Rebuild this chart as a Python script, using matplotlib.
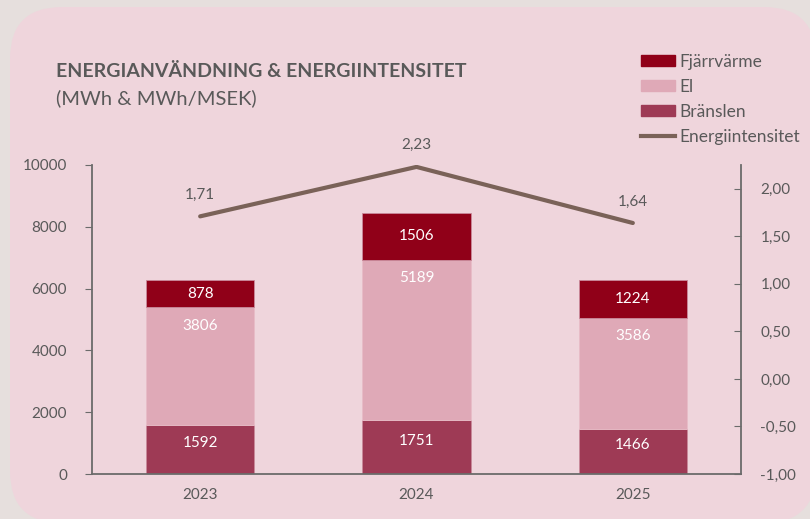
import matplotlib
matplotlib.use("Agg")
import matplotlib.pyplot as plt
from matplotlib.patches import FancyBboxPatch, Patch
from matplotlib.lines import Line2D
import numpy as np

plt.rcParams["font.family"] = ["Lato", "DejaVu Sans"]

years = ["2023", "2024", "2025"]
branslen = [1592, 1751, 1466]
el = [3806, 5189, 3586]
fjarrvarme = [878, 1506, 1224]
intensitet = [1.71, 2.23, 1.64]

c_fjarr = "#900018"
c_el = "#dfa9b7"
c_bran = "#9e3a55"
c_line = "#7a6258"
c_text = "#595959"
c_panel = "#efd5dc"
c_outer = "#e6dfdd"

W, H = 810, 519
fig = plt.figure(figsize=(W / 100, H / 100), dpi=100)
fig.patch.set_facecolor(c_outer)

# rounded pink panel drawn in pixel coordinates
bg = fig.add_axes([0, 0, 1, 1])
bg.set_xlim(0, W)
bg.set_ylim(H, 0)
bg.axis("off")
bg.add_patch(FancyBboxPatch((10, 7), 806, 516,
                            boxstyle="round,pad=0,rounding_size=52",
                            fc=c_panel, ec="none"))

ax = fig.add_axes([92 / W, 1 - 474 / H, 649 / W, 309 / H])
ax.set_facecolor("none")
x = np.arange(len(years))
bw = 0.5
ax.bar(x, branslen, bw, color=c_bran, edgecolor="#c98a9b", linewidth=0.6)
ax.bar(x, el, bw, bottom=branslen, color=c_el, edgecolor="#e8bcc7", linewidth=0.6)
bot3 = np.array(branslen) + np.array(el)
ax.bar(x, fjarrvarme, bw, bottom=bot3, color=c_fjarr, edgecolor="#c98a9b", linewidth=0.6)

ax.set_xlim(-0.5, 2.5)
ax.set_ylim(0, 10000)
ax.set_yticks(range(0, 10001, 2000))
ax.set_xticks(x)
ax.set_xticklabels(years)
for s in ["top", "right"]:
    ax.spines[s].set_visible(False)
for s in ["left", "bottom"]:
    ax.spines[s].set_color("#6b6b6b")
    ax.spines[s].set_linewidth(1.3)
ax.tick_params(axis="y", direction="out", length=5, color="#6b6b6b", labelsize=11,
               labelcolor=c_text, pad=13)
ax.tick_params(axis="x", length=0, labelsize=11, labelcolor=c_text, pad=10)

lab_kw = dict(ha="center", va="center", color="white", fontsize=11)
for i in range(len(years)):
    ax.text(x[i], branslen[i] / 2 + 200, str(branslen[i]), **lab_kw)
    ax.text(x[i], branslen[i] + el[i] - 600, str(el[i]), **lab_kw)
    ax.text(x[i], bot3[i] + fjarrvarme[i] / 2, str(fjarrvarme[i]), **lab_kw)

ax2 = ax.twinx()
ax2.set_ylim(-1.0, 2.25)
ax2.set_yticks(np.arange(-1.0, 2.01, 0.5))
ax2.set_yticklabels([f"{v:.2f}".replace(".", ",") for v in np.arange(-1.0, 2.01, 0.5)])
for s in ["top", "left", "bottom"]:
    ax2.spines[s].set_visible(False)
ax2.spines["right"].set_color("#6b6b6b")
ax2.spines["right"].set_linewidth(1.3)
ax2.tick_params(axis="y", direction="in", length=5, color="#6b6b6b", labelsize=11,
                labelcolor=c_text, pad=14)
ax2.plot(x, intensitet, color=c_line, linewidth=3, solid_capstyle="round")
for i, v in enumerate(intensitet):
    ax2.annotate(f"{v:.2f}".replace(".", ","), (x[i], v), xytext=(0, 15.5),
                 textcoords="offset points", ha="center", va="center",
                 color=c_text, fontsize=11)

fig.text(56 / W, 1 - 72 / H, "ENERGIANVÄNDNING & ENERGIINTENSITET", fontsize=14,
         fontweight="bold", color=c_text, va="center")
fig.text(56 / W, 1 - 98 / H, "(MWh & MWh/MSEK)", fontsize=14.5, color=c_text, va="center")

handles = [Patch(color=c_fjarr), Patch(color=c_el), Patch(color=c_bran),
           Line2D([], [], color=c_line, linewidth=3)]
labels = ["Fjärrvärme", "El", "Bränslen", "Energiintensitet"]
fig.legend(handles, labels, loc="upper left", bbox_to_anchor=(632 / W, 1 - 45 / H),
           frameon=False, fontsize=12.5, labelcolor=c_text, handlelength=2.0,
           handleheight=0.55, handletextpad=0.25, labelspacing=0.52, borderpad=0)

fig.savefig("out.png", dpi=100, facecolor=fig.get_facecolor())
